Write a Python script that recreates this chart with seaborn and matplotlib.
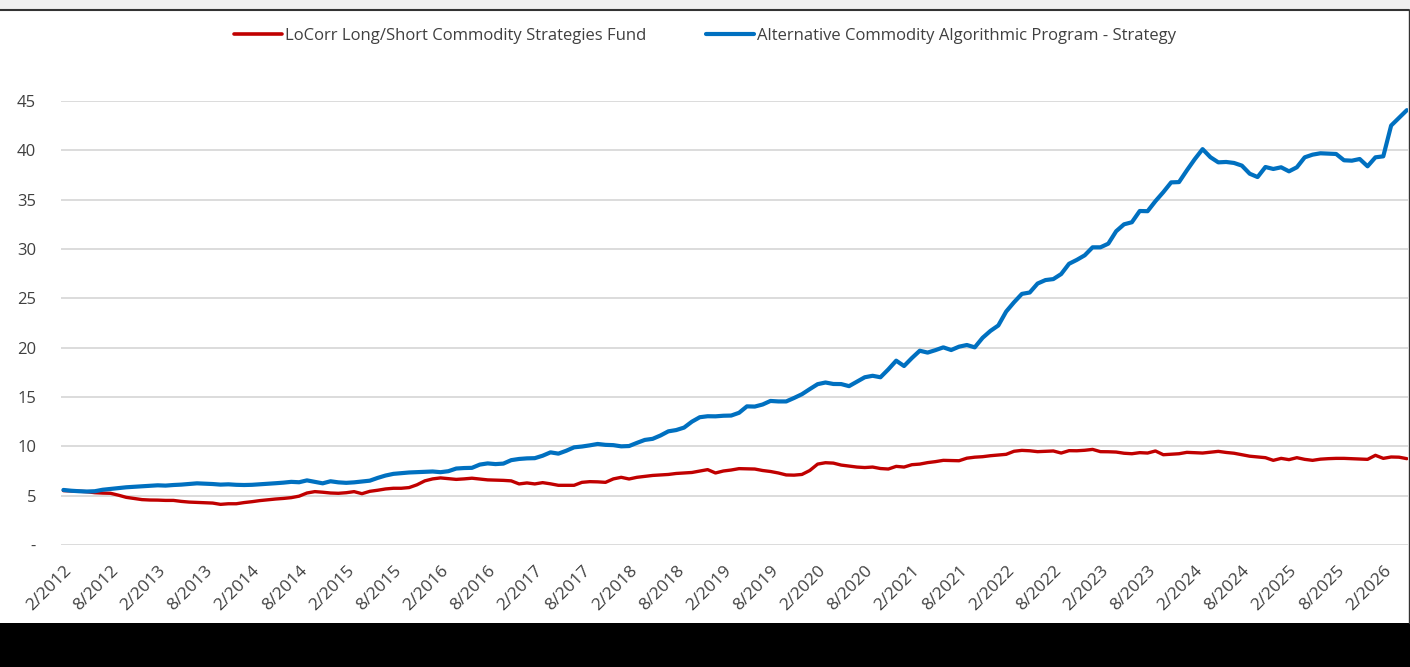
import matplotlib
matplotlib.use("Agg")
import matplotlib.pyplot as plt
from matplotlib.lines import Line2D
from matplotlib.patches import Rectangle
import numpy as np
import pandas as pd
import seaborn as sns

# monthly values, Feb 2012 .. May 2026
locorr = [
    5.51, 5.48, 5.45, 5.40, 5.30, 5.26, 5.24, 5.05, 4.83, 4.72,
    4.60, 4.56, 4.55, 4.52, 4.52, 4.42, 4.35, 4.32, 4.28, 4.25,
    4.12, 4.18, 4.18, 4.30, 4.39, 4.50, 4.58, 4.66, 4.72, 4.80,
    4.95, 5.27, 5.41, 5.35, 5.27, 5.24, 5.30, 5.41, 5.20, 5.44,
    5.55, 5.68, 5.75, 5.75, 5.82, 6.10, 6.50, 6.70, 6.80, 6.72,
    6.65, 6.70, 6.77, 6.68, 6.60, 6.58, 6.55, 6.50, 6.19, 6.29,
    6.19, 6.32, 6.20, 6.05, 6.05, 6.05, 6.35, 6.42, 6.40, 6.35,
    6.70, 6.86, 6.69, 6.86, 6.95, 7.05, 7.10, 7.15, 7.25, 7.30,
    7.35, 7.50, 7.64, 7.30, 7.50, 7.60, 7.74, 7.72, 7.70, 7.55,
    7.45, 7.30, 7.10, 7.08, 7.15, 7.55, 8.20, 8.34, 8.30, 8.10,
    8.00, 7.90, 7.85, 7.90, 7.75, 7.70, 7.97, 7.90, 8.14, 8.20,
    8.35, 8.45, 8.58, 8.56, 8.54, 8.80, 8.90, 8.95, 9.05, 9.12,
    9.19, 9.50, 9.59, 9.55, 9.46, 9.50, 9.53, 9.32, 9.56, 9.55,
    9.60, 9.69, 9.46, 9.45, 9.42, 9.30, 9.25, 9.36, 9.32, 9.53,
    9.15, 9.20, 9.25, 9.39, 9.36, 9.32, 9.40, 9.49, 9.38, 9.30,
    9.15, 9.00, 8.92, 8.85, 8.58, 8.78, 8.65, 8.85, 8.68, 8.58,
    8.70, 8.75, 8.78, 8.78, 8.75, 8.72, 8.68, 9.09, 8.78, 8.92,
    8.90, 8.75,
]
algo = [
    5.58, 5.50, 5.45, 5.42, 5.45, 5.60, 5.68, 5.75, 5.85, 5.90,
    5.95, 6.00, 6.05, 6.02, 6.08, 6.12, 6.18, 6.25, 6.22, 6.18,
    6.12, 6.15, 6.10, 6.08, 6.10, 6.15, 6.20, 6.26, 6.32, 6.40,
    6.36, 6.55, 6.40, 6.25, 6.46, 6.35, 6.30, 6.35, 6.43, 6.52,
    6.80, 7.04, 7.21, 7.28, 7.35, 7.38, 7.41, 7.45, 7.38, 7.48,
    7.75, 7.80, 7.82, 8.15, 8.27, 8.20, 8.25, 8.60, 8.72, 8.78,
    8.80, 9.05, 9.39, 9.26, 9.55, 9.90, 9.98, 10.10, 10.24, 10.15,
    10.12, 10.00, 10.03, 10.35, 10.65, 10.76, 11.10, 11.52, 11.65, 11.90,
    12.50, 12.95, 13.05, 13.04, 13.10, 13.12, 13.40, 14.05, 14.03, 14.24,
    14.60, 14.55, 14.55, 14.90, 15.28, 15.80, 16.30, 16.47, 16.32, 16.31,
    16.10, 16.55, 17.00, 17.15, 17.00, 17.80, 18.68, 18.14, 18.95, 19.69,
    19.50, 19.75, 20.03, 19.76, 20.10, 20.27, 20.03, 21.00, 21.70, 22.25,
    23.66, 24.60, 25.45, 25.59, 26.50, 26.85, 26.95, 27.46, 28.50, 28.90,
    29.36, 30.17, 30.17, 30.54, 31.80, 32.50, 32.71, 33.85, 33.83, 34.85,
    35.76, 36.75, 36.78, 37.97, 39.10, 40.12, 39.30, 38.78, 38.82, 38.72,
    38.45, 37.63, 37.29, 38.31, 38.11, 38.28, 37.87, 38.28, 39.29, 39.56,
    39.70, 39.66, 39.63, 38.99, 38.95, 39.12, 38.38, 39.29, 39.39, 42.51,
    43.29, 44.07,
]
series_names = [
    "LoCorr Long/Short Commodity Strategies Fund",
    "Alternative Commodity Algorithmic Program - Strategy",
]
colors = ["#c00000", "#0070c0"]
y_ticks = [0, 5, 10, 15, 20, 25, 30, 35, 40, 45]
y_labels = ["-", "5", "10", "15", "20", "25", "30", "35", "40", "45"]

months = pd.date_range("2012-02-01", periods=len(algo), freq="MS")
df = pd.DataFrame({"idx": np.arange(len(algo)), series_names[0]: locorr, series_names[1]: algo})

sns.set_style("white")
plt.rcParams["font.family"] = ["Open Sans", "DejaVu Sans"]

fig = plt.figure(figsize=(14.1, 6.67), dpi=100)
ax = fig.add_axes([0.0433, 0.1829, 0.9553, 0.6657])

sns.lineplot(data=df, x="idx", y=series_names[0], color=colors[0], linewidth=2.4, ax=ax)
sns.lineplot(data=df, x="idx", y=series_names[1], color=colors[1], linewidth=3.0, ax=ax)

ax.set_xlim(-0.3, len(algo) - 0.85)
ax.set_ylim(0, 45)
ax.set_yticks(y_ticks)
ax.set_yticklabels(y_labels, fontsize=12, color="#404040")
ax.grid(axis="y", color="#d9d9d9", linewidth=1.3)
ax.set_axisbelow(True)
tick_pos = list(range(0, len(algo), 6))
ax.set_xticks(tick_pos)
ax.set_xticklabels([f"{months[i].month}/{months[i].year}" for i in tick_pos],
                   rotation=45, ha="right", rotation_mode="anchor",
                   fontsize=12.5, color="#404040")
ax.tick_params(axis="y", length=0, pad=18)
ax.tick_params(axis="x", length=0, pad=13)
ax.set_xlabel("")
ax.set_ylabel("")
sns.despine(ax=ax, left=True, bottom=True)

handles = [Line2D([], [], color=colors[0], linewidth=2.6),
           Line2D([], [], color=colors[1], linewidth=3.0)]
fig.legend(handles, series_names, loc="center", bbox_to_anchor=(0.5, 1 - 36 / 667),
           ncol=2, frameon=False, fontsize=12, handlelength=2.9,
           handletextpad=0.15, columnspacing=3.6, labelcolor="#404040")

# frame decorations from the source image
fig.add_artist(Rectangle((0, 1 - 9 / 667), 1, 9 / 667, transform=fig.transFigure,
                         facecolor="#f0f0f0", edgecolor="none"))
fig.add_artist(Line2D([0, 0.9993], [1 - 10 / 667] * 2, transform=fig.transFigure,
                      color="#333333", linewidth=1.5))
fig.add_artist(Line2D([0.9993, 0.9993], [1 - 10 / 667, 44 / 667], transform=fig.transFigure,
                      color="#333333", linewidth=1.0))
fig.add_artist(Rectangle((0, 0), 1, 44 / 667, transform=fig.transFigure,
                         facecolor="black", edgecolor="none"))

fig.savefig("out.png", dpi=100)
